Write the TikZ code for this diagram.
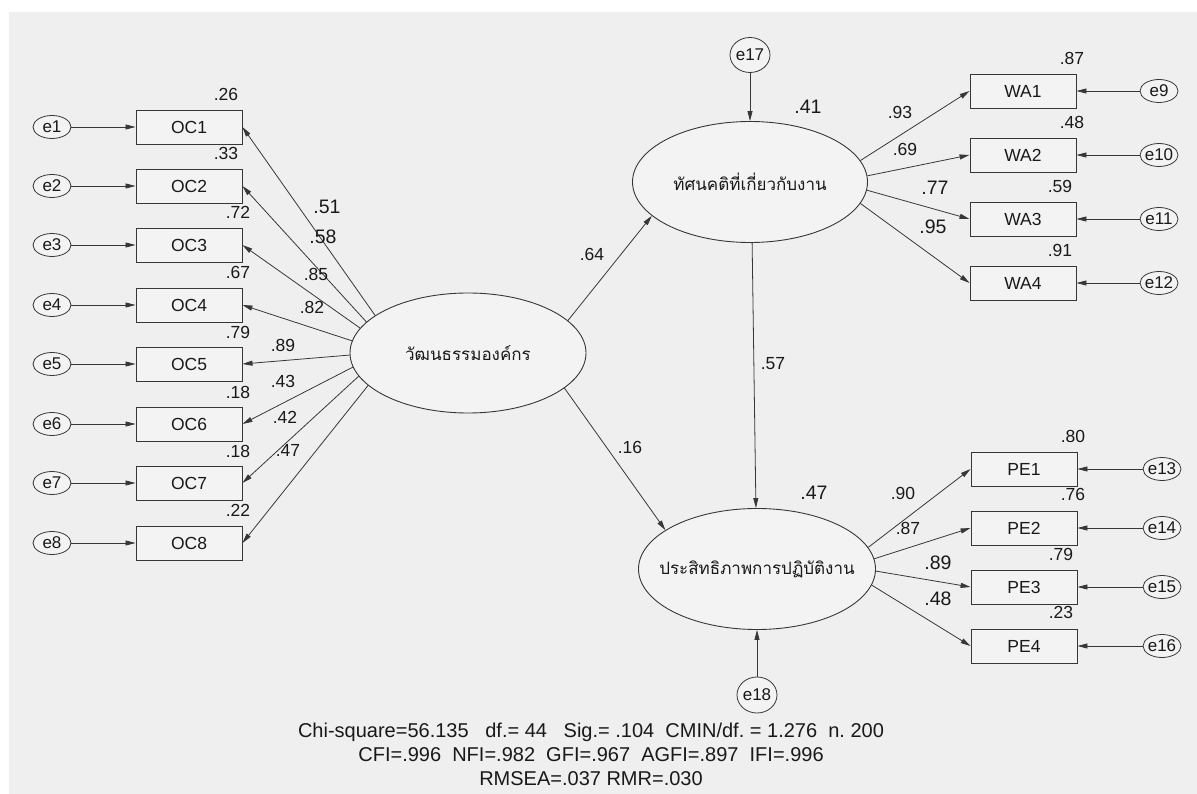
\documentclass[tikz,border=0pt]{standalone}
\usepackage{fontspec}
\setmainfont{Liberation Sans}
\newfontfamily\thaifont[Script=Thai]{Loma}
\usetikzlibrary{shapes.geometric,arrows.meta}
\definecolor{panel}{RGB}{239,239,239}
\definecolor{nodefill}{RGB}{243,243,243}
\definecolor{linec}{RGB}{55,55,55}
\definecolor{textc}{RGB}{25,25,25}
\begin{document}
\begin{tikzpicture}[x=1pt,y=-1pt,
  obs/.style={draw=linec, line width=0.9pt, fill=nodefill, minimum width=106pt, minimum height=34pt, inner sep=0pt, text=textc, font=\fontsize{17.5}{20}\selectfont},
  err/.style={ellipse, draw=linec, line width=0.8pt, fill=nodefill, minimum width=38pt, minimum height=23pt, inner sep=0pt},
  errtxt/.style={text=textc, font=\fontsize{17}{20}\selectfont, inner sep=0pt},
  lat/.style={ellipse, draw=linec, line width=0.9pt, fill=nodefill, minimum width=236pt, minimum height=120pt, inner sep=0pt},
  lattxt/.style={text=textc, font=\thaifont\fontsize{17}{20}\selectfont, inner sep=0pt},
  lab/.style={inner sep=0pt, text=textc, font=\fontsize{17.5}{20}\selectfont},
  biglab/.style={inner sep=0pt, text=textc, font=\fontsize{19.5}{22}\selectfont},
  arr/.style={draw=linec, line width=0.8pt, -{Triangle[length=10pt,width=5pt]}}
]
\useasboundingbox (0,0) rectangle (1197,794);
\fill[panel] (9,12) rectangle (1197,794);

% latent variables
\node[lat, label={[lattxt]center:วัฒนธรรมองค์กร}] (oc) at (468,353) {};
\node[lat, minimum width=235pt, minimum height=121pt, label={[lattxt]center:ทัศนคติที่เกี่ยวกับงาน}] (wa) at (750,182) {};
\node[lat, minimum width=237pt, minimum height=121pt, label={[lattxt]center:ประสิทธิภาพการปฏิบัติงาน}] (pe) at (757,569) {};

% disturbance terms
\node[err, minimum width=40pt, minimum height=35pt, label={[errtxt]center:e17}] (e17) at (750,55) {};
\node[err, minimum width=40pt, minimum height=36pt, label={[errtxt]center:e18}] (e18) at (757,695) {};

% OC indicators
\foreach \i/\y in {1/127,2/186,3/245,4/305,5/364,6/424,7/483,8/543}{
  \node[obs] (oc\i) at (189,\y) {OC\i};
  \node[err, label={[errtxt]center:e\i}] (e\i) at (52,\y) {};
  \draw[arr] (e\i.east) -- (oc\i.west);
}
% WA indicators
\foreach \i/\y/\e in {1/91/9,2/155/10,3/219/11,4/283/12}{
  \node[obs] (wa\i) at (1023,\y) {WA\i};
  \node[err, label={[errtxt]center:e\e}] (e\e) at (1159,\y) {};
  \draw[arr] (e\e.west) -- (wa\i.east);
}
% PE indicators
\foreach \i/\y/\e in {1/469/13,2/528/14,3/587/15,4/646/16}{
  \node[obs] (pe\i) at (1024,\y) {PE\i};
  \node[err, label={[errtxt]center:e\e}] (e\e) at (1162,\y) {};
  \draw[arr] (e\e.west) -- (pe\i.east);
}

% loadings OC
\draw[arr] (oc.158.7) -- (oc1.east);
\draw[arr] (oc.163.8) -- (oc2.east);
\draw[arr] (oc.167.6) -- (oc3.east);
\draw[arr] (oc.174.6) -- (oc4.east);
\draw[arr] (oc.181.5) -- (oc5.east);
\draw[arr] (oc.187.4) -- (oc6.east);
\draw[arr] (oc.192.9) -- (oc7.east);
\draw[arr] (oc.198.8) -- (oc8.east);
% loadings WA
\draw[arr] (wa.11.1) -- (wa1.west);
\draw[arr] (wa.3.4) -- (wa2.west);
\draw[arr] (wa.-4.4) -- (wa3.west);
\draw[arr] (wa.-11.1) -- (wa4.west);
% loadings PE
\draw[arr] (pe.11.7) -- (pe1.west);
\draw[arr] (pe.5.3) -- (pe2.west);
\draw[arr] (pe.-1.9) -- (pe3.west);
\draw[arr] (pe.-8.9) -- (pe4.west);

% structural paths
\draw[arr] (oc.18.4) -- (wa.199.3);
\draw[arr] (oc.-20.8) -- (pe.157.7);
\draw[arr] (wa.272.8) -- (pe.91.9);
\draw[arr] (e17.south) -- (wa.north);
\draw[arr] (e18.north) -- (pe.south);

% R-squared OC
\node[lab] (r1) at (226,94) {.26};
\node[lab] (r2) at (226,153) {.33};
\node[lab] (r3) at (238,212) {.72};
\node[lab] (r4) at (238,272) {.67};
\node[lab] (r5) at (238,332) {.79};
\node[lab] (r6) at (238,392) {.18};
\node[lab] (r7) at (238,451) {.18};
\node[lab] (r8) at (238,510) {.22};
% loadings labels OC
\node[biglab] (l1) at (327,207) {.51};
\node[biglab] (l2) at (323,237) {.58};
\node[lab] (l3) at (316,274) {.85};
\node[lab] (l4) at (312,307) {.82};
\node[lab] (l5) at (283,345) {.89};
\node[lab] (l6) at (283,381) {.43};
\node[lab] (l7) at (285,417) {.42};
\node[lab] (l8) at (288,450) {.47};
% WA labels
\node[lab] (r9) at (1072,58) {.87};
\node[lab] (r10) at (1072,122) {.48};
\node[lab] (r11) at (1060,186) {.59};
\node[lab] (r12) at (1060,250) {.91};
\node[lab] (l9) at (900,112) {.93};
\node[lab] (l10) at (905,149) {.69};
\node[biglab] (l11) at (935,188) {.77};
\node[biglab] (l12) at (933,227) {.95};
% PE labels
\node[lab] (r13) at (1073,436) {.80};
\node[lab] (r14) at (1073,494) {.76};
\node[lab] (r15) at (1061,554) {.79};
\node[lab] (r16) at (1061,612) {.23};
\node[lab] (l13) at (903,493) {.90};
\node[lab] (l14) at (908,528) {.87};
\node[biglab] (l15) at (938,563) {.89};
\node[biglab] (l16) at (938,599) {.48};
% structural labels
\node[biglab] (rwa) at (808,107) {.41};
\node[biglab] (rpe) at (814,493) {.47};
\node[lab] (p1) at (592,254) {.64};
\node[lab] (p2) at (630,447) {.16};
\node[lab] (p3) at (773,364) {.57};

% fit indices
\node[inner sep=0pt, text=textc, align=center, font=\fontsize{20}{24}\selectfont] (fit) at (591,754)
 {Chi-square=56.135\ \ \ df.=~44\ \ \ Sig.=~.104\ \ CMIN/df.~=~1.276\ \ n.~200\\
  CFI=.996\ \ NFI=.982\ \ GFI=.967\ \ AGFI=.897\ \ IFI=.996\\
  RMSEA=.037 RMR=.030};
\end{tikzpicture}
\end{document}
